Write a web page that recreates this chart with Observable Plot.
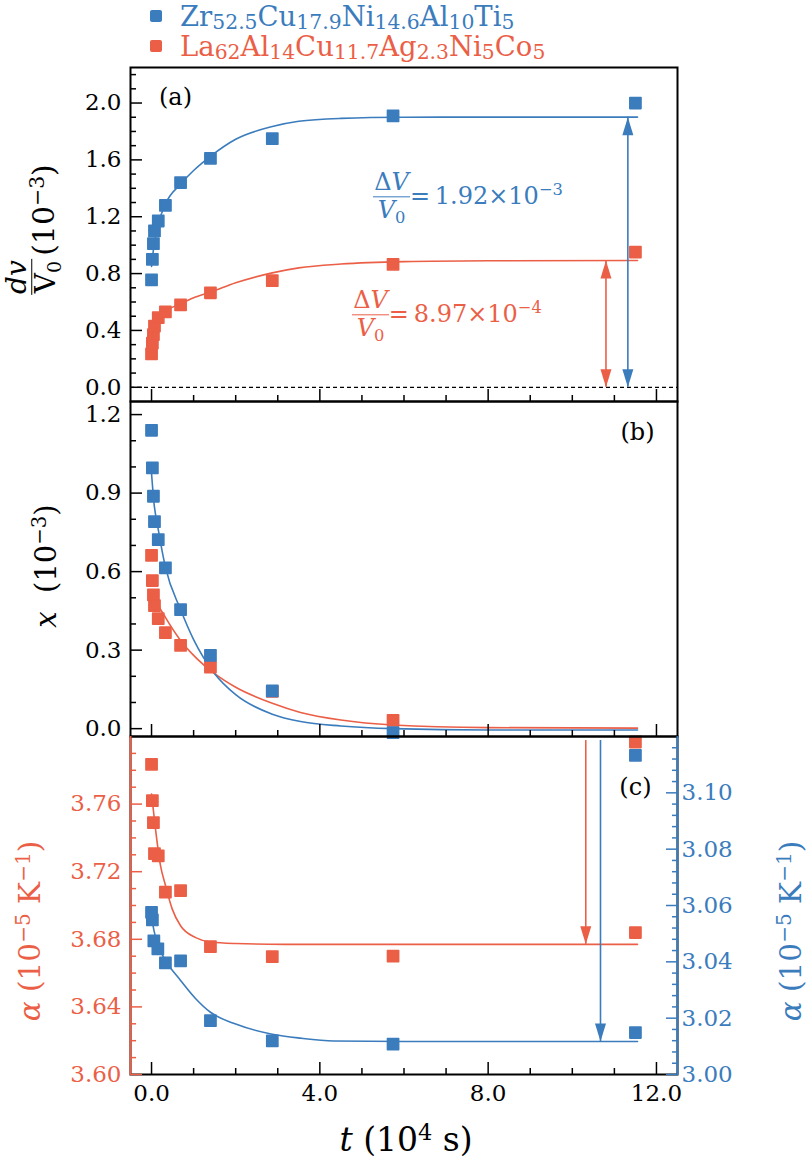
<!DOCTYPE html>
<html>
<head>
<meta charset="utf-8">
<script src="https://cdn.jsdelivr.net/npm/d3@7"></script>
<script src="https://cdn.jsdelivr.net/npm/@observablehq/plot@0.6"></script>
<style>
html,body{margin:0;padding:0;background:#fff;}
#fig{position:relative;width:809px;height:1163px;overflow:hidden;font-family:"DejaVu Serif",serif;color:#000;background:#fff;}
#fig svg{position:absolute;left:0;top:0;background:transparent !important;}
.lbl{position:absolute;white-space:nowrap;line-height:1;}
.lbl sub{font-size:0.68em;vertical-align:-0.28em;line-height:0;}
.lbl sup{font-size:0.68em;vertical-align:0.5em;line-height:0;}
.leg sub{font-size:0.74em;vertical-align:-0.14em;}
.frac{display:inline-flex;flex-direction:column;align-items:center;line-height:1.05;}
.frac .num{border-bottom:1.4px solid currentColor;padding:0 1px 1px;}
.frac .den{padding-top:1px;}
.tight .frac{line-height:0.92;}
.rot{transform:translate(-50%,-50%) rotate(-90deg);}
.sq{position:absolute;width:12px;height:12px;border-radius:2px;}
</style>
</head>
<body>
<div id="fig"></div>
<script>
// ---------- colours ----------
const BLUE = "#3b7cbd";
const ORANGE = "#eb5f47";

// ---------- shared x axis (t, 10^4 s) ----------
const xDomain = [-0.5, 12.5];
const xMajor = [0, 4, 8, 12];
const xMinor = [1, 2, 3, 5, 6, 7, 9, 10, 11];
const xTickLabels = ["0.0", "4.0", "8.0", "12.0"];

// measurement times (10^4 s)
const tMeas = [0, 0.02, 0.045, 0.07, 0.16, 0.33, 0.69, 1.40, 2.87, 5.74, 11.5];

// ---------- panel (a): dv/V0 (10^-3) ----------
const yDomainA = [-0.1, 2.25];
const yMajorA = [0, 0.4, 0.8, 1.2, 1.6, 2.0];
const yMinorA = [0.1, 0.2, 0.3, 0.5, 0.6, 0.7, 0.9, 1.0, 1.1, 1.3, 1.4, 1.5, 1.7, 1.8, 1.9, 2.1, 2.2];
const dvZr = [0.756, 0.90, 1.01, 1.10, 1.17, 1.28, 1.44, 1.61, 1.75, 1.91, 2.00];
const dvLa = [0.235, 0.31, 0.37, 0.43, 0.49, 0.53, 0.58, 0.665, 0.751, 0.865, 0.951];
const fitTA = [0, 0.05, 0.1, 0.17, 0.33, 0.69, 1.0, 1.4, 2.0, 2.87, 3.5, 4.5, 6.0, 8.0, 11.55];
const fitDvZr = [0.85, 0.98, 1.07, 1.16, 1.29, 1.43, 1.525, 1.625, 1.745, 1.835, 1.872, 1.892, 1.90, 1.901, 1.901];
const fitDvLa = [0.24, 0.37, 0.43, 0.47, 0.53, 0.587, 0.63, 0.669, 0.735, 0.805, 0.84, 0.867, 0.884, 0.89, 0.892];

// ---------- panel (b): x (10^-3) ----------
const yDomainB = [-0.03, 1.25];
const yMajorB = [0, 0.3, 0.6, 0.9, 1.2];
const yMinorB = [0.1, 0.2, 0.4, 0.5, 0.7, 0.8, 1.0, 1.1];
const xZr = [1.14, 0.996, 0.888, 0.791, 0.722, 0.614, 0.455, 0.28, 0.144, -0.015, -0.102];
const xLa = [0.662, 0.566, 0.511, 0.47, 0.42, 0.367, 0.318, 0.235, 0.142, 0.032, -0.051];
const fitTBZr = [0, 0.06, 0.15, 0.33, 0.69, 1.0, 1.5, 2.0, 2.87, 3.54, 4.5, 5.74, 8.0, 11.55];
const fitXZr = [0.975, 0.86, 0.77, 0.617, 0.455, 0.34, 0.21, 0.13, 0.055, 0.027, 0.01, 0.0, -0.005, -0.005];
const fitTBLa = [0.1, 0.17, 0.33, 0.69, 1.0, 1.5, 2.0, 2.87, 3.54, 4.5, 5.74, 8.0, 11.55];
const fitXLa = [0.50, 0.47, 0.425, 0.337, 0.28, 0.21, 0.158, 0.097, 0.062, 0.033, 0.014, 0.004, 0.002];

// ---------- panel (c): alpha (10^-5 K^-1) ----------
const yDomainCLa = [3.60, 3.80];
const yMajorCLa = [3.60, 3.64, 3.68, 3.72, 3.76];
const yMinorCLa = [3.61, 3.62, 3.63, 3.65, 3.66, 3.67, 3.69, 3.70, 3.71, 3.73, 3.74, 3.75, 3.77, 3.78, 3.79];
const alphaLa = [3.7835, 3.762, 3.749, 3.7307, 3.7294, 3.7079, 3.7088, 3.6756, 3.6697, 3.670, 3.684];
const fitTCLa = [0, 0.1, 0.21, 0.33, 0.49, 0.69, 1.05, 1.4, 2.0, 3.18, 6.0, 11.55];
const fitAlphaLa = [3.766, 3.744, 3.724, 3.712, 3.698, 3.688, 3.681, 3.6784, 3.6775, 3.677, 3.677, 3.677];

const yDomainCZr = [3.00, 3.12];
const yMajorCZr = [3.00, 3.02, 3.04, 3.06, 3.08, 3.10];
const yMinorCZr = [3.004, 3.008, 3.012, 3.016, 3.024, 3.028, 3.032, 3.036, 3.044, 3.048, 3.052, 3.056,
                   3.064, 3.068, 3.072, 3.076, 3.084, 3.088, 3.092, 3.096, 3.104, 3.108, 3.112, 3.116];
const tZrC = [0, 0.02, 0.055, 0.15, 0.33, 0.69, 1.40, 2.87, 5.74, 11.5];
const alphaZr = [3.0576, 3.0549, 3.0474, 3.0446, 3.0396, 3.0403, 3.0191, 3.0119, 3.0108, 3.0149];
const fitTCZr = [0, 0.06, 0.15, 0.33, 0.69, 1.05, 1.4, 2.0, 2.87, 3.54, 4.33, 6.0, 11.55];
const fitAlphaZr = [3.056, 3.051, 3.046, 3.0406, 3.0334, 3.0269, 3.0221, 3.0179, 3.0143, 3.0129, 3.0119, 3.0117, 3.0117];

// ---------- annotation anchors (data coordinates) ----------
const arrowsA = [
  {t: 11.32, lo: 0, hi: 1.90, c: BLUE},
  {t: 10.80, lo: 0, hi: 0.892, c: ORANGE}
];
const arrowCLa = [{t: 10.32, top: 3.7976, tip: 3.677}];
const arrowCZr = [{t: 10.67, top: 3.1186, tip: 3.0117}];

// ---------- helpers ----------
const zip = (ts, vs) => ts.map((t, i) => ({t, v: vs[i]}));
const headUp = {draw(ctx) { ctx.moveTo(0, 0); ctx.lineTo(-5.5, 18); ctx.lineTo(5.5, 18); ctx.closePath(); }};
const headDown = {draw(ctx) { ctx.moveTo(0, 0); ctx.lineTo(-5.5, -18); ctx.lineTo(5.5, -18); ctx.closePath(); }};
const fig = document.getElementById("fig");

function mk(yDomain, marginTop, marginBottom, marks) {
  const p = Plot.plot({
    width: 809, height: 1163,
    marginLeft: 130, marginRight: 132, marginTop, marginBottom,
    x: {domain: xDomain, axis: null, label: null},
    y: {domain: yDomain, axis: null, label: null},
    style: {background: "transparent", fontFamily: "DejaVu Serif", fontSize: "23px", overflow: "visible"},
    marks
  });
  fig.appendChild(p);
  return p;
}
function xTicks() {
  return [
    Plot.axisX(xMajor, {anchor: "bottom", tickSize: 12, dy: -12, strokeWidth: 1.5, tickFormat: () => "", label: null}),
    Plot.axisX(xMinor, {anchor: "bottom", tickSize: 6, dy: -6, strokeWidth: 1.5, tickFormat: () => "", label: null})
  ];
}
function yTicks(major, minor, fmt, color, anchor = "left") {
  const s = anchor === "left" ? 1 : -1;
  return [
    Plot.axisY(major, {anchor, tickSize: 12, dx: 12 * s, strokeWidth: 1.5, tickFormat: () => "", label: null, color}),
    Plot.axisY(minor, {anchor, tickSize: 6, dx: 6 * s, strokeWidth: 1.5, tickFormat: () => "", label: null, color}),
    Plot.axisY(major, {anchor, tickSize: 0, tickPadding: anchor === "left" ? 9 : 4, tickFormat: fmt, label: null, color, fontSize: 23})
  ];
}
const sq = (c) => ({x: "t", y: "v", symbol: "square", r: 6.3, fill: c, stroke: c, strokeWidth: 1.6, strokeLinejoin: "round"});
const ln = (c) => ({x: "t", y: "v", stroke: c, strokeWidth: 1.6, curve: "monotone-x"});

// ---------- panel (a) ----------
const pA = mk(yDomainA, 67, 762, [
  Plot.ruleY([0], {stroke: "black", strokeWidth: 1.3, strokeDasharray: "4,3"}),
  Plot.line(zip(fitTA, fitDvZr), ln(BLUE)),
  Plot.line(zip(fitTA, fitDvLa), ln(ORANGE)),
  Plot.ruleX(arrowsA, {x: "t", y1: "lo", y2: "hi", stroke: "c", strokeWidth: 1.6}),
  Plot.dot(arrowsA, {x: "t", y: "hi", symbol: headUp, r: 5, fill: "c", stroke: "none"}),
  Plot.dot(arrowsA, {x: "t", y: "lo", symbol: headDown, r: 5, fill: "c", stroke: "none"}),
  Plot.dot(zip(tMeas, dvLa), sq(ORANGE)),
  Plot.dot(zip(tMeas, dvZr), sq(BLUE)),
  Plot.text([{t: 0.57, v: 2.04, s: "(a)"}], {x: "t", y: "v", text: "s", fontSize: 24, fill: "black"}),
  Plot.frame({stroke: "black", strokeWidth: 2}),
  ...xTicks(),
  ...yTicks(yMajorA, yMinorA, d => d.toFixed(1), "black")
]);

// ---------- panel (b) ----------
const pB = mk(yDomainB, 401, 427, [
  Plot.line(zip(fitTBLa, fitXLa), ln(ORANGE)),
  Plot.line(zip(fitTBZr, fitXZr), ln(BLUE)),
  Plot.dot(zip(tMeas, xLa), sq(ORANGE)),
  Plot.dot(zip(tMeas, xZr), sq(BLUE)),
  Plot.text([{t: 11.55, v: 1.134, s: "(b)"}], {x: "t", y: "v", text: "s", fontSize: 24, fill: "black"}),
  Plot.frame({stroke: "black", strokeWidth: 2}),
  ...xTicks(),
  ...yTicks(yMajorB, yMinorB, d => d.toFixed(1), "black")
]);

// ---------- panel (c), La series on left axis ----------
const pC = mk(yDomainCLa, 736, 89, [
  Plot.line(zip(fitTCLa, fitAlphaLa), ln(ORANGE)),
  Plot.ruleX(arrowCLa, {x: "t", y1: "top", y2: "tip", stroke: ORANGE, strokeWidth: 1.6}),
  Plot.dot(arrowCLa, {x: "t", y: "tip", symbol: headDown, r: 5, fill: ORANGE, stroke: "none"}),
  Plot.dot(zip(tMeas, alphaLa), sq(ORANGE)),
  Plot.text([{t: 11.5, v: 3.770, s: "(c)"}], {x: "t", y: "v", text: "s", fontSize: 24, fill: "black"}),
  Plot.frame({stroke: "black", strokeWidth: 2}),
  Plot.ruleX([xDomain[0]], {stroke: ORANGE, strokeWidth: 2}),
  ...xTicks(),
  Plot.axisX(xMajor, {anchor: "bottom", tickSize: 0, tickPadding: 10, tickFormat: d => xTickLabels[xMajor.indexOf(d)], label: null, fontSize: 23}),
  ...yTicks(yMajorCLa, yMinorCLa, d => d.toFixed(2), ORANGE)
]);

// ---------- panel (c), Zr series on right axis ----------
const pC2 = mk(yDomainCZr, 736, 89, [
  Plot.line(zip(fitTCZr, fitAlphaZr), ln(BLUE)),
  Plot.ruleX(arrowCZr, {x: "t", y1: "top", y2: "tip", stroke: BLUE, strokeWidth: 1.6}),
  Plot.dot(arrowCZr, {x: "t", y: "tip", symbol: headDown, r: 5, fill: BLUE, stroke: "none"}),
  Plot.dot(zip(tZrC, alphaZr), sq(BLUE)),
  Plot.ruleX([xDomain[1]], {stroke: BLUE, strokeWidth: 2}),
  ...yTicks(yMajorCZr, yMinorCZr, d => d.toFixed(2), BLUE, "right")
]);

// ---------- HTML text (labels, legend, annotations) ----------
function addLabel(html, left, top, style, cls = "lbl") {
  const d = document.createElement("div");
  d.className = cls;
  d.innerHTML = html;
  d.style.left = left + "px";
  d.style.top = top + "px";
  Object.assign(d.style, style);
  fig.appendChild(d);
  return d;
}
// legend
const lg = [
  {c: BLUE, html: "Zr<sub>52.5</sub>Cu<sub>17.9</sub>Ni<sub>14.6</sub>Al<sub>10</sub>Ti<sub>5</sub>"},
  {c: ORANGE, html: "La<sub>62</sub>Al<sub>14</sub>Cu<sub>11.7</sub>Ag<sub>2.3</sub>Ni<sub>5</sub>Co<sub>5</sub>"}
];
lg.forEach((g, i) => {
  const s = document.createElement("div");
  s.className = "sq"; s.style.background = g.c;
  s.style.left = "150px"; s.style.top = (10 + 30 * i) + "px";
  fig.appendChild(s);
  addLabel(g.html, 180, 3 + 30 * i, {color: g.c, fontSize: "27.5px"}, "lbl leg");
});

// delta V annotations, anchored via the panel (a) scales
const sx = pA.scale("x"), sy = pA.scale("y");
const ann = [
  {t: 5.28, v: 1.335, c: BLUE, val: "1.92×10<sup>−3</sup>"},
  {t: 4.78, v: 0.505, c: ORANGE, val: "8.97×10<sup>−4</sup>"}
];
ann.forEach(a => {
  addLabel(`<span class="frac" style="vertical-align:middle"><span class="num">Δ<i>V</i></span><span class="den"><i>V</i><sub>0</sub></span></span>=&#8201;${a.val}`,
    sx.apply(a.t), sy.apply(a.v), {color: a.c, fontSize: "24px", transform: "translateY(-50%)"});
});

// axis titles
addLabel(`<span class="frac"><span class="num"><i>dv</i></span><span class="den">V<sub>0</sub></span></span>`,
  31, 277, {fontSize: "28px"}, "lbl rot tight");
addLabel(`(10<sup>−3</sup>)`, 44, 210, {fontSize: "30px"}, "lbl rot");
addLabel(`<i>x</i>&nbsp;&nbsp;(10<sup>−3</sup>)`, 46, 566, {fontSize: "29px"}, "lbl rot");
addLabel(`<i>α</i> (10<sup>−5</sup> K<sup>−1</sup>)`, 31, 931, {fontSize: "29.5px", color: ORANGE}, "lbl rot");
addLabel(`<i>α</i> (10<sup>−5</sup> K<sup>−1</sup>)`, 792, 931, {fontSize: "29.5px", color: BLUE}, "lbl rot");
addLabel(`<i>t</i> (10<sup>4</sup> s)`, 406, 1123, {fontSize: "33px", transform: "translateX(-50%)"});
</script>
</body>
</html>
